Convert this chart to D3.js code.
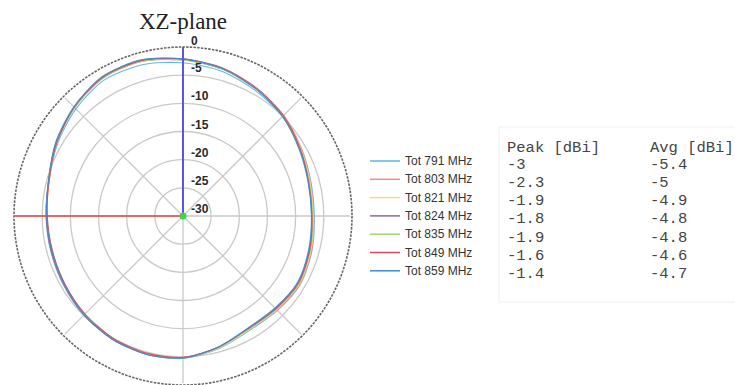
<!DOCTYPE html>
<html>
<head>
<meta charset="utf-8">
<script src="https://cdn.jsdelivr.net/npm/d3@7/dist/d3.min.js"></script>
<style>
  html, body { margin: 0; padding: 0; background: #fff; }
  svg { display: block; }
</style>
</head>
<body>
<svg id="chart" width="735" height="385"></svg>
<script>
// Radiation pattern, XZ-plane: total gain (dB) sampled every 15°, clockwise from 0° at top
const angles = d3.range(0, 360, 15);

const seriesNames = ["Tot 791 MHz", "Tot 803 MHz", "Tot 821 MHz", "Tot 824 MHz",
                     "Tot 835 MHz", "Tot 849 MHz", "Tot 859 MHz"];
const seriesColors = ["#5fb2e2", "#f0917c", "#f3d98c", "#8a6aa8", "#a6d06e", "#d84a5a", "#3d8ccf"];

const gain791 = [-2.8,-3.4,-4.3,-5.0,-5.8,-6.5,-6.7,-6.3,-5.9,-6.3,-6.5,-5.6,-4.7,-4.6,-4.8,-5.1,-5.5,-5.7,-5.7,-5.4,-4.3,-3.1,-2.1,-2.2];
const gain803 = [-2.3,-3.0,-3.9,-4.7,-5.8,-6.6,-6.8,-6.4,-6.0,-6.5,-6.7,-5.8,-4.9,-4.8,-4.9,-5.2,-5.6,-5.8,-5.8,-5.3,-4.0,-2.7,-1.7,-1.6];
const gain821 = [-2.2,-2.9,-3.9,-4.8,-5.9,-6.7,-6.9,-6.5,-6.1,-6.5,-6.7,-5.7,-4.8,-4.7,-4.9,-5.3,-5.7,-5.9,-5.8,-5.4,-4.1,-2.8,-1.6,-1.5];
const gain824 = [-2.2,-3.0,-4.0,-5.0,-6.1,-6.9,-7.1,-6.8,-6.4,-6.8,-6.9,-5.9,-4.8,-4.6,-4.8,-5.2,-5.6,-5.8,-5.7,-5.3,-4.0,-2.7,-1.6,-1.5];
const gain835 = [-2.3,-3.0,-4.0,-4.9,-6.0,-6.8,-7.0,-6.6,-6.2,-6.6,-6.8,-5.8,-4.8,-4.7,-5.0,-5.4,-5.8,-6.0,-5.9,-5.4,-4.1,-2.8,-1.7,-1.6];
const gain849 = [-2.1,-2.8,-3.8,-4.8,-6.0,-6.9,-7.1,-6.7,-6.3,-6.7,-6.9,-5.9,-4.9,-4.8,-5.0,-5.4,-5.8,-6.0,-5.9,-5.4,-4.1,-2.7,-1.5,-1.4];
const gain859 = [-2.1,-2.9,-4.0,-5.0,-6.2,-7.0,-7.2,-6.9,-6.5,-6.9,-7.0,-5.9,-4.8,-4.6,-4.8,-5.2,-5.7,-5.9,-5.8,-5.3,-3.9,-2.6,-1.4,-1.3];
const seriesGains = [gain791, gain803, gain821, gain824, gain835, gain849, gain859];

// Radial tick labels (dB)
const ringTicks = [0, -5, -10, -15, -20, -25, -30];

// Summary table
const peakValues = ["-3", "-2.3", "-1.9", "-1.8", "-1.9", "-1.6", "-1.4"];
const avgValues  = ["-5.4", "-5", "-4.9", "-4.8", "-4.8", "-4.6", "-4.7"];

const svg = d3.select("#chart");

const cx = 183, cy = 216, R = 169;
const rScale = d3.scaleLinear().domain([-30, 0]).range([0, R]);
const aScale = d3.scaleLinear().domain([0, 360]).range([0, 2 * Math.PI]);

const polar = svg.append("g").attr("transform", `translate(${cx},${cy})`);

// Title
svg.append("text")
  .attr("x", cx).attr("y", 29)
  .attr("text-anchor", "middle")
  .attr("font-family", "Liberation Serif, serif")
  .attr("font-size", 23)
  .attr("fill", "#222")
  .text("XZ-plane");

// Grid rings
polar.selectAll("circle.ring")
  .data(ringTicks.filter(t => t > -30 && t < 0))
  .join("circle")
  .attr("class", "ring")
  .attr("r", d => rScale(d))
  .attr("fill", "none")
  .attr("stroke", "#c9c9c9")
  .attr("stroke-width", 1.3);

// Outer boundary (0 dB)
polar.append("circle")
  .attr("r", rScale(0))
  .attr("fill", "none")
  .attr("stroke", "#666")
  .attr("stroke-width", 1.6)
  .attr("stroke-dasharray", "2.5,1.2");

// Spokes every 45°
const spokeAngles = d3.range(0, 360, 45);
polar.selectAll("line.spoke")
  .data(spokeAngles)
  .join("line")
  .attr("class", "spoke")
  .attr("x1", 0).attr("y1", 0)
  .attr("x2", d => Math.sin(aScale(d)) * (R - 2))
  .attr("y2", d => -Math.cos(aScale(d)) * (R - 2))
  .attr("stroke", "#c9c9c9")
  .attr("stroke-width", 1.3);

// Pattern curves
const radial = d3.lineRadial()
  .angle((d, i) => aScale(angles[i]))
  .radius(d => rScale(d))
  .curve(d3.curveCardinalClosed.tension(0.2));

polar.selectAll("path.series")
  .data(seriesGains)
  .join("path")
  .attr("class", "series")
  .attr("d", d => radial(d))
  .attr("fill", "none")
  .attr("stroke", (d, i) => seriesColors[i])
  .attr("stroke-width", 1.1)
  .attr("stroke-opacity", 0.95);

// Reference axes
polar.append("line")
  .attr("x1", 0).attr("y1", 0)
  .attr("x2", -R).attr("y2", 0)
  .attr("stroke", "#e0474a").attr("stroke-width", 1.5);
polar.append("line")
  .attr("x1", 0).attr("y1", 0)
  .attr("x2", 0).attr("y2", -R)
  .attr("stroke", "#5a55e6").attr("stroke-width", 2);

// Radial tick labels
polar.selectAll("text.tick")
  .data(ringTicks)
  .join("text")
  .attr("class", "tick")
  .attr("x", 8)
  .attr("y", d => -rScale(d) - (d === 0 ? 2 : 3))
  .attr("font-family", "Liberation Sans, Arial, sans-serif")
  .attr("font-weight", "bold")
  .attr("font-size", 12)
  .attr("fill", "#2a2a2a")
  .text(d => d);

// Center marker
polar.append("circle")
  .attr("r", 3.5)
  .attr("fill", "#3fd44a");

// Legend
const legend = svg.append("g").attr("transform", "translate(370,161)");
const legendRows = legend.selectAll("g")
  .data(seriesNames)
  .join("g")
  .attr("transform", (d, i) => `translate(0,${i * 18.3})`);
legendRows.append("line")
  .attr("x1", 0).attr("x2", 30)
  .attr("stroke", (d, i) => seriesColors[i])
  .attr("stroke-width", 1.5);
legendRows.append("text")
  .attr("x", 35).attr("y", 4)
  .attr("font-family", "Liberation Sans, Arial, sans-serif")
  .attr("font-size", 12)
  .attr("fill", "#333")
  .text(d => d);

// Summary table
const table = svg.append("g");
table.append("rect")
  .attr("x", 499).attr("y", 127)
  .attr("width", 240).attr("height", 175)
  .attr("fill", "none")
  .attr("stroke", "#f0f0f0");
const mono = "Liberation Mono, Courier New, monospace";
const colX = [507, 650];
const headerY = 151.5, rowY0 = 168.5, rowStep = 18.3;
table.selectAll("text.head")
  .data(["Peak [dBi]", "Avg [dBi]"])
  .join("text")
  .attr("class", "head")
  .attr("x", (d, i) => colX[i]).attr("y", headerY)
  .attr("font-family", mono).attr("font-size", 15.5)
  .attr("fill", "#444")
  .attr("xml:space", "preserve")
  .text(d => d);
table.selectAll("text.peak")
  .data(peakValues)
  .join("text")
  .attr("class", "peak")
  .attr("x", colX[0]).attr("y", (d, i) => rowY0 + i * rowStep)
  .attr("font-family", mono).attr("font-size", 15.5)
  .attr("fill", "#444")
  .text(d => d);
table.selectAll("text.avg")
  .data(avgValues)
  .join("text")
  .attr("class", "avg")
  .attr("x", colX[1]).attr("y", (d, i) => rowY0 + i * rowStep)
  .attr("font-family", mono).attr("font-size", 15.5)
  .attr("fill", "#444")
  .text(d => d);
</script>
</body>
</html>
